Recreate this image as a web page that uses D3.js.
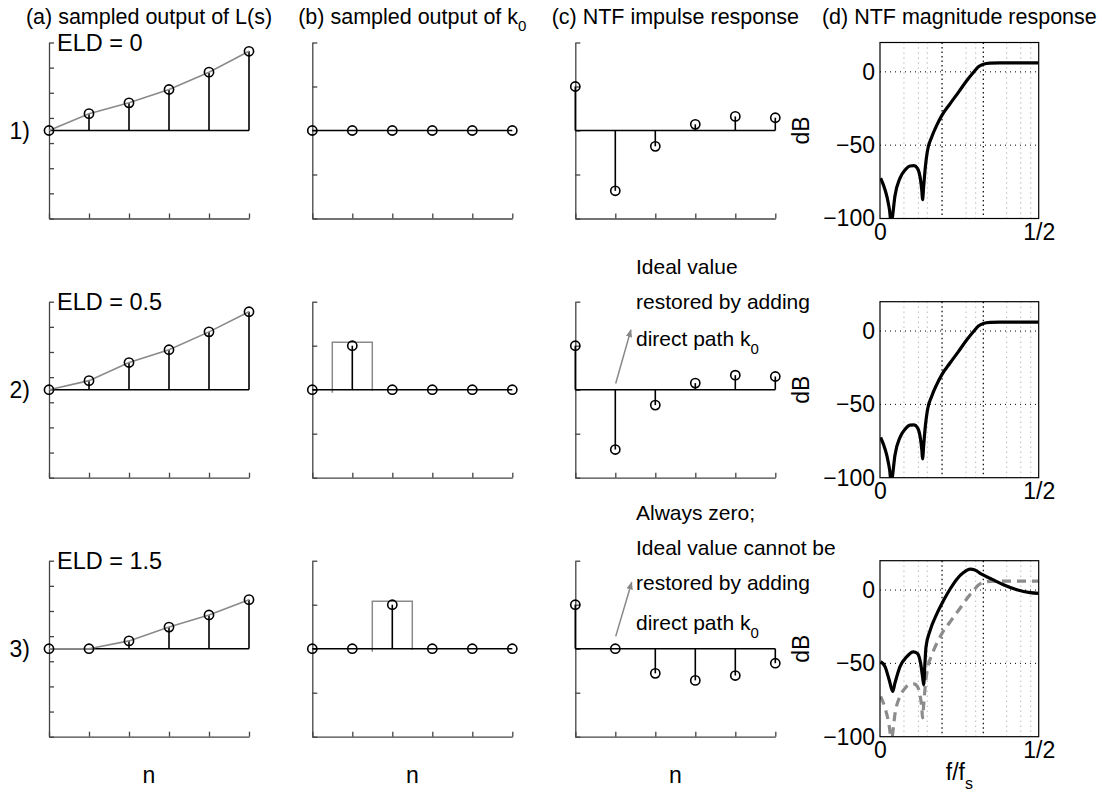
<!DOCTYPE html>
<html><head><meta charset="utf-8">
<script src="https://cdn.jsdelivr.net/npm/d3@7"></script>
<style>
body{margin:0;background:#fff}
svg{display:block}
text{font-family:"Liberation Sans",Arial,Helvetica,sans-serif;fill:#000}
</style>
</head><body>
<svg id="chart" width="1102" height="797"></svg>
<script>
// ---------------- data ----------------
const columnTitles = ["(a) sampled output of L(s)", "(b) sampled output of k", "(c) NTF impulse response", "(d) NTF magnitude response"];
const titleSubscripts = ["", "0", "", ""];
const rowLabels = ["1)", "2)", "3)"];
const eldLabels = ["ELD = 0", "ELD = 0.5", "ELD = 1.5"];
const sampleIndex = [0, 1, 2, 3, 4, 5];

// (a) sampled output of the loop filter L(s)
const loopOutRow1 = [0, 0.67, 1.1, 1.63, 2.32, 3.15];
const loopOutRow2 = [0, 0.36, 1.08, 1.59, 2.3, 3.1];
const loopOutRow3 = [0, 0, 0.31, 0.86, 1.34, 1.95];
const loopTicks = [-3.5, -2.5, -1.5, -0.5, 0.5, 1.5, 2.5, 3.5];

// (b) sampled output of direct path k0
const k0OutRow1 = [0, 0, 0, 0, 0, 0];
const k0OutRow2 = [0, 1, 0, 0, 0, 0];
const k0OutRow3 = [0, 0, 1, 0, 0, 0];
const pulseStart = [null, 0.5, 1.5];
const pulseEnd = [null, 1.5, 2.5];
const pulseHeight = 1.08;
const k0Ticks = [-2, -1, 0, 1, 2];

// (c) NTF impulse response
const impulseRow1 = [1, -1.37, -0.36, 0.14, 0.32, 0.29];
const impulseRow2 = [1, -1.36, -0.35, 0.15, 0.33, 0.30];
const impulseRow3 = [1, 0, -0.56, -0.72, -0.61, -0.33];

// (d) NTF magnitude response (f/fs, dB)
const freqIdeal = [0.002, 0.0158, 0.026, 0.0326, 0.0345, 0.039, 0.047, 0.063, 0.079, 0.0945, 0.107, 0.118, 0.126, 0.132, 0.134, 0.1376, 0.143, 0.149, 0.163, 0.1786, 0.195, 0.2206, 0.247, 0.273, 0.294, 0.31, 0.3256, 0.347, 0.378, 0.5];
const dbIdeal   = [-72.5, -80.4, -89.4, -99.5, -106, -99.5, -84.9, -72.5, -66.9, -64.2, -64, -65.8, -71.4, -81.5, -87.2, -78.1, -64.6, -54.5, -44.4, -36.5, -29.7, -21.8, -14, -6.1, -0.45, 3.4, 5.2, 5.9, 6.1, 6.1];
const freqEld15 = [0.002, 0.0158, 0.029, 0.04, 0.047, 0.063, 0.084, 0.105, 0.118, 0.128, 0.134, 0.1376, 0.141, 0.145, 0.158, 0.179, 0.2, 0.221, 0.242, 0.263, 0.284, 0.299, 0.32, 0.352, 0.389, 0.431, 0.473, 0.5];
const dbEld15   = [-48.9, -52.2, -61.3, -69.1, -63.5, -52.2, -45.5, -42.1, -43.2, -50, -59, -64.6, -52.2, -38.7, -27.5, -16.2, -7.2, 0.7, 7.4, 11.9, 14.2, 13.7, 10.8, 7.4, 3.6, 0.2, -1.8, -2.3];
const magYTicks = [0, -50, -100];
const magYTickLabels = ["0", "\u221250", "\u2212100"];
const magXTicks = [0, 0.5];
const magXTickLabels = ["0", "1/2"];
const gridMinorF = [0.0755, 0.121, 0.149, 0.271, 0.3015, 0.399, 0.4435, 0.475];
const gridMajorF = [0.1955, 0.3255];

// annotations in panel (c)
const noteRow2 = ["Ideal value", "restored by adding", "direct path k"];
const noteRow3 = ["Always zero;", "Ideal value cannot be", "restored by adding", "direct path k"];
const arrowRow2 = [[1.01, 0.14], [1.39, 1.36]];
const arrowRow3 = [[1.01, 0.28], [1.41, 1.51]];

// ---------------- layout ----------------
const svg = d3.select("#chart");
const colX = [[49, 249], [312.3, 512.3], [575.3, 775.3], [880, 1038.7]];
const rowTop = [42.5, 301.7, 560.7];
const axH = 176;
const FT = 21.5, FL = 23, FN = 21, FE = 23.5;
const axisColor = "#444";

const defs = svg.append("defs");
defs.append("marker").attr("id", "arr").attr("viewBox", "0 0 10 10")
  .attr("refX", 9).attr("refY", 5).attr("markerWidth", 8).attr("markerHeight", 8)
  .attr("markerUnits", "userSpaceOnUse").attr("orient", "auto")
  .append("path").attr("d", "M0,1 L10,5 L0,9 z").attr("fill", "#888");

// titles
columnTitles.forEach((t, i) => {
  const cx = (colX[i][0] + colX[i][1]) / 2;
  const tx = svg.append("text").attr("x", cx).attr("y", 24).attr("text-anchor", "middle").style("font-size", FT + "px");
  tx.append("tspan").text(t);
  if (titleSubscripts[i]) tx.append("tspan").attr("dy", 7).style("font-size", "15px").text(titleSubscripts[i]);
});

function stemPanel(col, row, values, yDomain, yTicks, opts) {
  const x = d3.scaleLinear().domain([0, 5]).range(colX[col]);
  const top = rowTop[row], bottom = top + axH;
  const y = d3.scaleLinear().domain(yDomain).range([bottom, top]);
  const g = svg.append("g");
  const ya = g.append("g").attr("transform", `translate(${colX[col][0]},0)`)
    .call(d3.axisLeft(y).tickValues(yTicks).tickSize(-5).tickSizeOuter(0).tickFormat(""));
  const xa = g.append("g").attr("transform", `translate(0,${bottom})`)
    .call(d3.axisBottom(x).tickValues(sampleIndex).tickSize(-5).tickSizeOuter(0).tickFormat(""));
  [ya, xa].forEach(a => { a.selectAll("path,line").attr("stroke", axisColor).attr("stroke-width", 1.3); });
  if (opts.pulse != null) {
    const p = d3.path();
    p.moveTo(x(opts.pulse[0]), y(0) + 3); p.lineTo(x(opts.pulse[0]), y(pulseHeight));
    p.lineTo(x(opts.pulse[1]), y(pulseHeight)); p.lineTo(x(opts.pulse[1]), y(0) + 1);
    g.append("path").attr("d", p.toString()).attr("fill", "none").attr("stroke", "#8a8a8a").attr("stroke-width", 1.5);
  }
  g.append("line").attr("x1", x(0)).attr("x2", x(5)).attr("y1", y(0)).attr("y2", y(0))
    .attr("stroke", "#000").attr("stroke-width", 1.6);
  g.selectAll(".stem").data(values).enter().append("line")
    .attr("x1", (d, i) => x(sampleIndex[i])).attr("x2", (d, i) => x(sampleIndex[i]))
    .attr("y1", y(0)).attr("y2", d => y(d)).attr("stroke", "#000").attr("stroke-width", 1.6);
  if (opts.connect) {
    g.append("path").datum(values)
      .attr("d", d3.line().x((d, i) => x(sampleIndex[i])).y(d => y(d)))
      .attr("fill", "none").attr("stroke", "#8a8a8a").attr("stroke-width", 1.6);
  }
  g.selectAll(".mk").data(values).enter().append("circle")
    .attr("cx", (d, i) => x(sampleIndex[i])).attr("cy", d => y(d)).attr("r", 4.6)
    .attr("fill", "none").attr("stroke", "#000").attr("stroke-width", 1.6);
  return { x, y };
}

const loopRows = [loopOutRow1, loopOutRow2, loopOutRow3];
const k0Rows = [k0OutRow1, k0OutRow2, k0OutRow3];
const impRows = [impulseRow1, impulseRow2, impulseRow3];

for (let r = 0; r < 3; r++) {
  const pa = stemPanel(0, r, loopRows[r], [-3.5, 3.5], loopTicks, { connect: true });
  svg.append("text").attr("x", 57).attr("y", rowTop[r] + 8).style("font-size", FE + "px").text(eldLabels[r]);
  svg.append("text").attr("x", 30).attr("y", pa.y(0) + 8.5).attr("text-anchor", "end").style("font-size", FL + "px").text(rowLabels[r]);
  stemPanel(1, r, k0Rows[r], [-2, 2], k0Ticks, { pulse: pulseStart[r] == null ? null : [pulseStart[r], pulseEnd[r]] });
  const pc = stemPanel(2, r, impRows[r], [-2, 2], k0Ticks, {});
  if (r > 0) {
    const a = r === 1 ? arrowRow2 : arrowRow3;
    svg.append("line").attr("x1", pc.x(a[0][0])).attr("y1", pc.y(a[0][1]))
      .attr("x2", pc.x(a[1][0])).attr("y2", pc.y(a[1][1]))
      .attr("stroke", "#888").attr("stroke-width", 1.5).attr("marker-end", "url(#arr)");
    const lines = r === 1 ? noteRow2 : noteRow3;
    const base = r === 1 ? [274, 309, 346] : [520, 555, 590, 630];
    lines.forEach((t, i) => {
      const tx = svg.append("text").attr("x", 636).attr("y", base[i]).style("font-size", FN + "px");
      tx.append("tspan").text(t);
      if (i === lines.length - 1) tx.append("tspan").attr("dy", 8).style("font-size", "15px").text("0");
    });
  }
}

// (d) magnitude panels
for (let r = 0; r < 3; r++) {
  const top = rowTop[r], bottom = top + axH;
  const x = d3.scaleLinear().domain([0, 0.5]).range(colX[3]);
  const y = d3.scaleLinear().domain([-100, 20]).range([bottom, top]);
  const g = svg.append("g");
  const cid = "clip" + r;
  defs.append("clipPath").attr("id", cid).append("rect")
    .attr("x", colX[3][0]).attr("y", top).attr("width", colX[3][1] - colX[3][0]).attr("height", axH);
  g.selectAll(".gm").data(gridMinorF).enter().append("line")
    .attr("x1", d => x(d)).attr("x2", d => x(d)).attr("y1", top).attr("y2", bottom)
    .attr("stroke", "#999").attr("stroke-width", 1).attr("stroke-dasharray", "1,4");
  g.selectAll(".gM").data(gridMajorF).enter().append("line")
    .attr("x1", d => x(d)).attr("x2", d => x(d)).attr("y1", top).attr("y2", bottom)
    .attr("stroke", "#000").attr("stroke-width", 1.2).attr("stroke-dasharray", "1.5,3");
  g.selectAll(".gh").data(magYTicks.filter(v => v > -100)).enter().append("line")
    .attr("x1", colX[3][0]).attr("x2", colX[3][1]).attr("y1", d => y(d)).attr("y2", d => y(d))
    .attr("stroke", "#000").attr("stroke-width", 1).attr("stroke-dasharray", "1,4");
  const line = d3.line().x(d => x(d[0])).y(d => y(d[1])).curve(d3.curveMonotoneX);
  const ideal = freqIdeal.map((f, i) => [f, dbIdeal[i]]);
  const cg = g.append("g").attr("clip-path", `url(#${cid})`);
  if (r < 2) {
    cg.append("path").attr("d", line(ideal)).attr("fill", "none").attr("stroke", "#000").attr("stroke-width", 3.2).attr("stroke-linejoin", "round");
  } else {
    cg.append("path").attr("d", line(ideal)).attr("fill", "none").attr("stroke", "#8c8c8c").attr("stroke-width", 3.2).attr("stroke-dasharray", "9,6");
    const eld = freqEld15.map((f, i) => [f, dbEld15[i]]);
    cg.append("path").attr("d", line(eld)).attr("fill", "none").attr("stroke", "#000").attr("stroke-width", 3.2).attr("stroke-linejoin", "round");
  }
  g.append("rect").attr("x", colX[3][0]).attr("y", top).attr("width", colX[3][1] - colX[3][0]).attr("height", axH)
    .attr("fill", "none").attr("stroke", "#000").attr("stroke-width", 1.2);
  const ya = g.append("g").attr("transform", `translate(${colX[3][0]},0)`)
    .call(d3.axisLeft(y).tickValues(magYTicks).tickSize(0).tickPadding(5).tickFormat((d, i) => magYTickLabels[i]));
  ya.select(".domain").remove();
  ya.selectAll("text").style("font-size", FL + "px").attr("font-family", null);
  const xa = g.append("g").attr("transform", `translate(0,${bottom})`)
    .call(d3.axisBottom(x).tickValues(magXTicks).tickSize(0).tickPadding(5).tickFormat((d, i) => magXTickLabels[i]));
  xa.select(".domain").remove();
  xa.selectAll("text").style("font-size", FL + "px").attr("font-family", null);
  svg.append("text").attr("transform", `translate(${809},${top + axH / 2}) rotate(-90)`)
    .attr("text-anchor", "middle").style("font-size", FL + "px").text("dB");
}

[0, 1, 2].forEach(i => {
  svg.append("text").attr("x", (colX[i][0] + colX[i][1]) / 2).attr("y", 783).attr("text-anchor", "middle").style("font-size", FL + "px").text("n");
});
const fl = svg.append("text").attr("x", (colX[3][0] + colX[3][1]) / 2).attr("y", 780).attr("text-anchor", "middle").style("font-size", FL + "px");
fl.append("tspan").text("f/f");
fl.append("tspan").attr("dy", 9).style("font-size", "16px").text("s");
</script>
</body></html>
